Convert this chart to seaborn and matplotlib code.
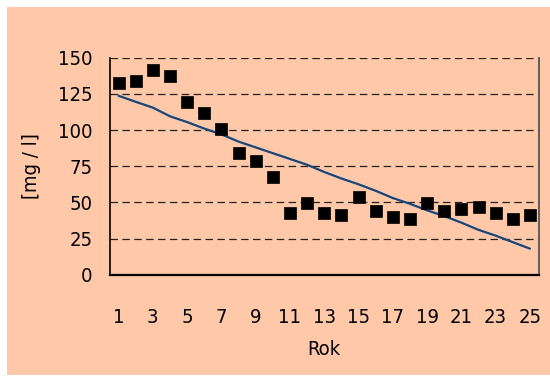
import numpy as np
import pandas as pd
import matplotlib
matplotlib.use("Agg")
import matplotlib.pyplot as plt
from matplotlib.patches import Rectangle
import seaborn as sns

# data
years = list(range(1, 26))
measured = [132.3, 133.7, 141.7, 137.6, 119.6, 111.5, 100.5, 83.9, 78.6, 67.5,
            42.6, 49.6, 42.6, 41.2, 53.7, 44.2, 39.9, 38.5, 49.6, 44.0,
            45.4, 46.8, 42.6, 38.5, 41.2]
trend = [123.7, 119.5, 115.5, 109.5, 105.5, 101.0, 97.0, 92.0, 88.0, 84.0,
         80.0, 76.0, 71.0, 66.5, 62.5, 58.0, 53.0, 49.0, 44.5, 40.5,
         36.0, 31.0, 27.0, 22.5, 18.0]
y_ticks = [0, 25, 50, 75, 100, 125, 150]
x_labels = [str(v) for v in range(1, 26, 2)]

df = pd.DataFrame({"Rok": years, "mg": measured, "trend": trend})

sns.set_theme(style="white")
plt.rcParams["font.family"] = ["DejaVu Sans"]
plt.rcParams["font.stretch"] = "condensed"

peach = "#FFC8A9"
fs = 14.5
fig = plt.figure(figsize=(5.5, 3.76), dpi=100, facecolor="white")
fig.patches.append(Rectangle((7 / 550, 1 / 376), 1 - 7 / 550, 368 / 376,
                             transform=fig.transFigure, facecolor=peach,
                             edgecolor="none", zorder=-10))
ax = fig.add_axes([110 / 550, 1 - 274.7 / 376, 428.5 / 550, 217 / 376])
ax.set_facecolor(peach)

for v in y_ticks[1:]:
    ax.axhline(v, color="#222222", lw=0.9, dashes=(6, 3.5), zorder=1)

sns.lineplot(data=df, x="Rok", y="trend", ax=ax, color="#16467A", lw=1.6, zorder=2)
sns.scatterplot(data=df, x="Rok", y="mg", ax=ax, marker="s", s=85,
                color="black", edgecolor="black", linewidth=0.5, zorder=3)

ax.set_xlim(0.5, 25.5)
ax.set_ylim(0, 150)
ax.set_yticks(y_ticks)
ax.set_yticklabels([str(v) for v in y_ticks], fontsize=fs, color="black")
ax.set_xticks(range(1, 26, 2))
ax.set_xticklabels(x_labels, fontsize=fs, color="black")
ax.set_xticks(np.arange(0.5, 26, 1), minor=True)
ax.tick_params(axis="x", which="major", length=0, pad=24)
ax.tick_params(axis="x", which="minor", length=6, width=1, color="#333333", direction="out")
ax.tick_params(axis="y", which="major", length=6.5, width=1, color="#666666",
               direction="out", pad=6)

ax.set_xlabel("Rok", fontsize=fs, labelpad=9, color="black")
ax.set_ylabel("[mg / l]", fontsize=fs, labelpad=12, color="black")

for side in ["left", "bottom", "right", "top"]:
    ax.spines[side].set_visible(True)
ax.spines["top"].set_visible(False)
ax.spines["left"].set_color("black")
ax.spines["left"].set_linewidth(1.2)
ax.spines["bottom"].set_color("black")
ax.spines["bottom"].set_linewidth(1.6)
ax.spines["right"].set_color("#555555")
ax.spines["right"].set_linewidth(1.3)

fig.savefig("out.png", dpi=100, facecolor="white")
